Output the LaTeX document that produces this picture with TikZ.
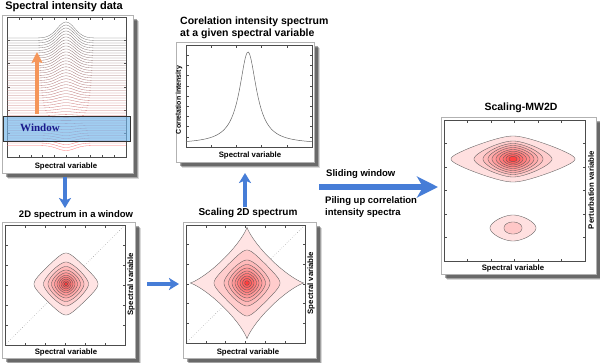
\documentclass[tikz,border=0pt]{standalone}
\usepackage{fontspec}
\setmainfont{Liberation Sans}
\newfontfamily\winfont{Liberation Serif}
\usetikzlibrary{arrows.meta}
\definecolor{arrowblue}{RGB}{70,125,215}
\definecolor{arroworange}{RGB}{245,150,90}
\definecolor{winblue}{RGB}{110,180,235}
\definecolor{winnavy}{RGB}{25,25,140}
\colorlet{topc}{black!55}
\colorlet{botc}{red!55!white}

\newcommand\pshadow[4]{%
 \fill[black,opacity=0.15] (#1+6,#2+6) rectangle (#3+6,#4+6);
 \fill[black,opacity=0.25] (#1+5,#2+5) rectangle (#3+5,#4+5);
 \fill[black,opacity=0.35] (#1+4,#2+4) rectangle (#3+4,#4+4);
 \draw[panelframe] (#1,#2) rectangle (#3,#4);}

\newcommand\tickframe[6]{% x1 y1 x2 y2 inner-x-ticks inner-y-ticks
 \draw[axisline] (#1,#2) rectangle (#3,#4);
 \foreach \k in {1,...,#5}{%
   \pgfmathsetmacro\tx{#1+(#3-#1)*\k/(#5+1)}
   \draw[axisline] (\tx,#2) -- ++(0,2.5);
   \draw[axisline] (\tx,#4) -- ++(0,-2.5);}
 \foreach \k in {1,...,#6}{%
   \pgfmathsetmacro\ty{#2+(#4-#2)*\k/(#6+1)}
   \draw[axisline] (#1,\ty) -- ++(2.5,0);
   \draw[axisline] (#3,\ty) -- ++(-2.5,0);}}

% rounded superellipse contour (polar form): cx cy a b p e fill
\newcommand\ring[7]{%
 \pgfmathsetmacro\rN{((1+#6)^(#5/2)+(#6)^(#5/2))^(1/#5)}
 \filldraw[contourline, fill=red!#7!white] plot[smooth, domain=1.25:358.75, samples=144]
   ({#1+#3*\rN*cos(\x)/((cos(\x)*cos(\x)+#6)^(#5/2)+(sin(\x)*sin(\x)+#6)^(#5/2))^(1/#5)},
    {#2+#4*\rN*sin(\x)/((cos(\x)*cos(\x)+#6)^(#5/2)+(sin(\x)*sin(\x)+#6)^(#5/2))^(1/#5)}) -- cycle;}

% star-like superellipse (parametric form): cx cy a b q fill
\newcommand\starring[6]{%
 \filldraw[contourline, fill=red!#6!white] plot[smooth, domain=1.25:358.75, samples=144]
   ({#1+#3*cos(\x)*abs(cos(\x))^(#5)}, {#2+#4*sin(\x)*abs(sin(\x))^(#5)}) -- cycle;}

\begin{document}
\begin{tikzpicture}[x=1pt,y=-1pt,
  panelframe/.style={draw=black!30, line width=0.5pt, fill=white},
  axisline/.style={draw=black!70, line width=0.45pt},
  contourline/.style={draw=black!65, line width=0.35pt},
  specline/.style={line width=0.3pt},
  title/.style={font=\bfseries\fontsize{10.5}{12}\selectfont, inner sep=0pt},
  axlab/.style={font=\bfseries\fontsize{7.8}{9}\selectfont, inner sep=0pt},
  midlab/.style={font=\bfseries\fontsize{9.5}{11}\selectfont, inner sep=0pt, anchor=west},
  bluearrow/.style={draw=arrowblue, line width=4.5pt, -{Stealth[length=10pt,width=12pt,inset=2.5pt]}},
  bigarrow/.style={draw=arrowblue, line width=5.5pt, -{Stealth[length=21pt,width=21pt,inset=6pt]}},
  orangearrow/.style={draw=arroworange, line width=4pt, -{Stealth[length=11pt,width=11pt,inset=2pt]}},
  diag/.style={draw=black!45, dotted, line width=0.45pt}]
\useasboundingbox (0,0) rectangle (600,362);
\fill[white] (0,0) rectangle (600,362);

% ---------- Panel 1: spectral intensity data
\pshadow{2}{15}{133}{173}
\tickframe{7}{17}{126}{157}{9}{5}
\foreach \i in {0,...,43}{
  \pgfmathsetmacro\bs{38+2.5*\i}
  \pgfmathsetmacro\am{16-21*\i/43}
  \pgfmathtruncatemacro\rr{100*\i/43}
  \draw[specline, color=botc!\rr!topc] plot[smooth, domain=7:126, samples=70]
    (\x,{\bs-\am*exp(-min((\x-66)*(\x-66)/150,15))});
}
\fill[winblue, opacity=0.65] (3,116) rectangle (130,141);
\draw[black!80, line width=0.6pt] (3,116) rectangle (130,141);
\node[font=\winfont\bfseries\fontsize{11}{12}\selectfont, text=winnavy, inner sep=0pt] (win) at (40,128) {Window};
\coordinate (os) at (37,114);
\coordinate (oe) at (37,52);
\draw[orangearrow] (os) -- (oe);
\node[title, font=\bfseries\fontsize{11}{12}\selectfont] (t1) at (64,7) {Spectral intensity data};
\node[axlab] (x1) at (66,166) {Spectral variable};

% ---------- Panel 2: correlation intensity spectrum
\pshadow{176}{42}{314}{162}
\tickframe{186}{45}{312}{147}{4}{9}
\draw[black!60, line width=0.5pt] plot[smooth, domain=186:312, samples=90]
  (\x,{144-92/(1+(\x-248)*(\x-248)/106)});
\node[title, anchor=west] (t2a) at (180,22) {Corelation intensity spectrum};
\node[title, anchor=west] (t2b) at (180,34) {at a given spectral variable};
\node[axlab] (x2) at (250,155) {Spectral variable};
\node[axlab, font=\bfseries\fontsize{7}{8}\selectfont, rotate=90] (y2) at (179,100) {Correlation intensity};

% ---------- Panel 3: 2D spectrum in a window
\pshadow{2}{222}{135}{358}
\draw[diag] (5,345) -- (125,225);
\begin{scope}[fill opacity=0.85]
\ring{66}{284}{32}{31}{0.95}{0.03}{12}
\end{scope}
\ring{66}{284}{22.5}{22}{1.25}{0.02}{20}
\ring{66}{284}{18}{17.5}{1.4}{0.02}{27}
\ring{66}{284}{14.5}{14}{1.5}{0.02}{34}
\ring{66}{284}{11.5}{11.2}{1.55}{0.02}{40}
\ring{66}{284}{9}{8.8}{1.6}{0.02}{46}
\ring{66}{284}{7}{6.8}{1.7}{0.02}{52}
\ring{66}{284}{5}{4.9}{1.8}{0.02}{58}
\ring{66}{284}{3.2}{3.1}{1.9}{0.02}{65}
\ring{66}{284}{1.6}{1.6}{2}{0.02}{78}
\tickframe{5}{225}{125}{345}{5}{5}
\node[title, font=\bfseries\fontsize{9.5}{11}\selectfont] (t3) at (76,215) {2D spectrum in a window};
\node[axlab] (x3) at (66,352) {Spectral variable};
\node[axlab, rotate=90] (y3) at (131,284) {Spectral variable};

% ---------- Panel 4: scaling 2D spectrum
\pshadow{183}{222}{316}{358}
\draw[diag] (186,343) -- (305,225);
\begin{scope}[fill opacity=0.85]
\starring{247}{283}{57}{56}{1.5}{12}
\end{scope}
\ring{247}{283}{33}{33}{1.0}{0.02}{20}
\ring{247}{283}{23}{23}{1.3}{0.02}{27}
\ring{247}{283}{18.5}{18.5}{1.4}{0.02}{34}
\ring{247}{283}{15}{15}{1.5}{0.02}{40}
\ring{247}{283}{12}{12}{1.55}{0.02}{46}
\ring{247}{283}{9.5}{9.5}{1.6}{0.02}{52}
\ring{247}{283}{7}{7}{1.7}{0.02}{58}
\ring{247}{283}{4.5}{4.5}{1.8}{0.02}{64}
\ring{247}{283}{2.2}{2.2}{2}{0.02}{76}
\tickframe{186}{225}{305}{343}{5}{5}
\node[title, font=\bfseries\fontsize{10}{11}\selectfont] (t4) at (248,213) {Scaling 2D spectrum};
\node[axlab] (x4) at (248,352) {Spectral variable};
\node[axlab, rotate=90] (y4) at (311,283) {Spectral variable};

% ---------- Panel 5: Scaling-MW2D
\pshadow{441}{117}{596}{274}
\ring{513}{159}{62}{23}{1.15}{0.02}{12}
\ring{513}{159}{39}{18}{1.35}{0.02}{20}
\ring{513}{159}{30}{15.5}{1.5}{0.02}{27}
\ring{513}{159}{25}{13.5}{1.55}{0.02}{33}
\ring{513}{159}{21}{11.5}{1.6}{0.02}{39}
\ring{513}{159}{17}{9.5}{1.65}{0.02}{45}
\ring{513}{159}{13.5}{7.8}{1.7}{0.02}{51}
\ring{513}{159}{10}{6}{1.75}{0.02}{57}
\ring{513}{159}{7}{4.3}{1.85}{0.02}{63}
\ring{513}{159}{4}{2.6}{2}{0.02}{74}
\ring{513}{228}{23}{13}{1.6}{0.02}{12}
\ring{513}{228}{9}{6}{2}{0.02}{22}
\tickframe{444}{120}{585}{261}{5}{5}
\node[title] (t5) at (521,108) {Scaling-MW2D};
\node[axlab] (x5) at (513,268) {Spectral variable};
\node[axlab, rotate=90] (y5) at (591,190) {Perturbation variable};

% ---------- Connecting arrows and labels
\coordinate (d1s) at (65,177);
\coordinate (d1e) at (65,208);
\draw[bluearrow] (d1s) -- (d1e);
\coordinate (r1s) at (147,284);
\coordinate (r1e) at (179,284);
\draw[bluearrow] (r1s) -- (r1e);
\coordinate (u1s) at (245,207);
\coordinate (u1e) at (245,173);
\draw[bluearrow] (u1s) -- (u1e);
\coordinate (bs) at (319,187);
\coordinate (be) at (438,187);
\draw[bigarrow] (bs) -- (be);
\node[midlab] (sw) at (326,174) {Sliding window};
\node[midlab] (pu1) at (325,201) {Piling up correlation};
\node[midlab] (pu2) at (325,213) {intensity spectra};
\end{tikzpicture}
\end{document}
